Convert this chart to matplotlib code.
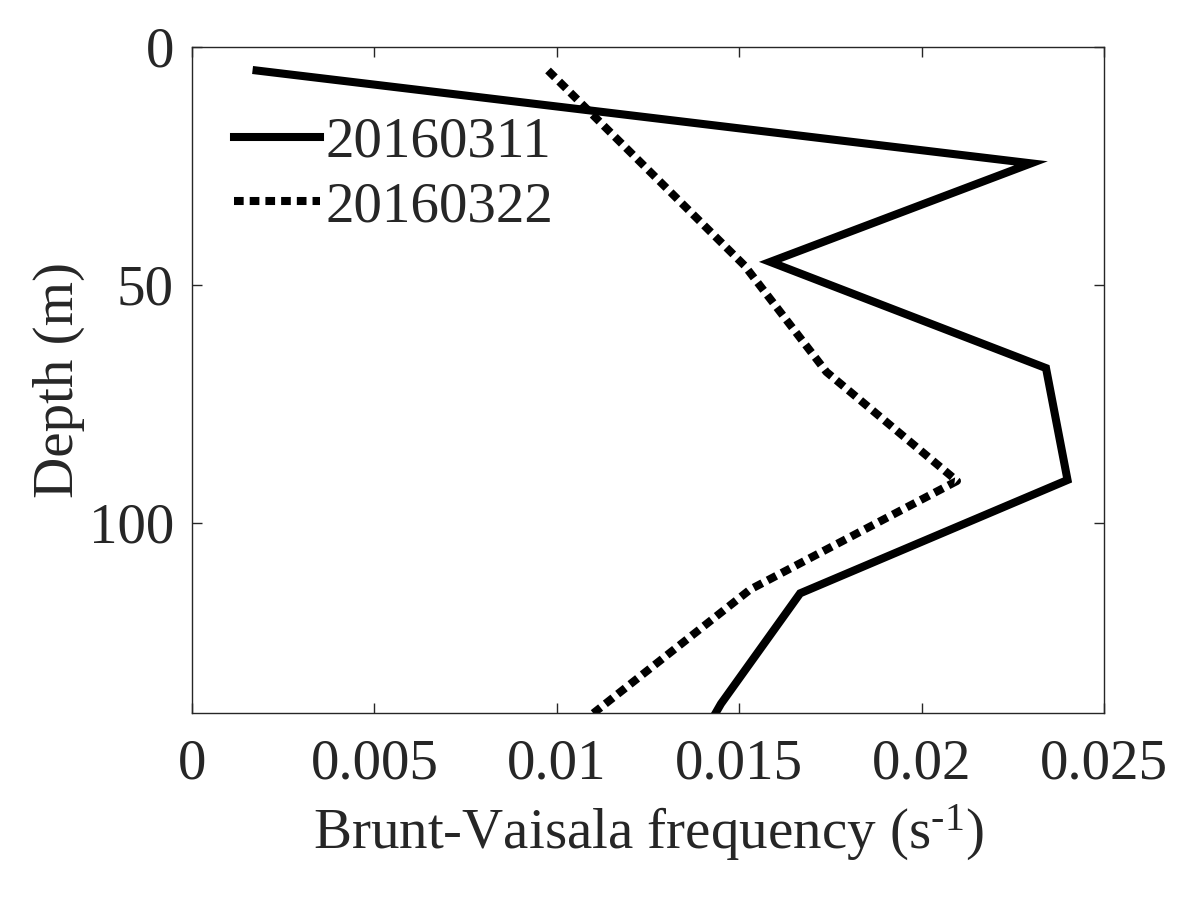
import matplotlib
matplotlib.use("Agg")
import matplotlib.pyplot as plt

# Data
solid_label = "20160311"
solid_x = [0.00177, 0.0230, 0.01585, 0.02341, 0.0240, 0.01667, 0.0145, 0.0142]
solid_y = [5, 24.5, 45.2, 67.5, 91, 114.8, 138, 142]

dotted_label = "20160322"
dotted_x = [0.00976, 0.01515, 0.01739, 0.02097, 0.0153, 0.0110]
dotted_y = [5, 46, 68.3, 91.2, 114, 140]

xticks = [0, 0.005, 0.01, 0.015, 0.02, 0.025]
xticklabels = ["0", "0.005", "0.01", "0.015", "0.02", "0.025"]
yticks = [0, 50, 100]
yticklabels = ["0", "50", "100"]

plt.rcParams['font.family'] = ['Liberation Serif', 'DejaVu Serif']
plt.rcParams['mathtext.fontset'] = 'custom'
plt.rcParams['mathtext.rm'] = 'Liberation Serif'
plt.rcParams['mathtext.it'] = 'Liberation Serif'
FS = 41
TC = '#262626'

fig = plt.figure(figsize=(12, 9.08), dpi=100)
ax = fig.add_axes([0.16, 0.2144, 0.76, 0.7342])

ax.plot(solid_x, solid_y, color='black', lw=5.8, solid_joinstyle='miter',
        label=solid_label)
ax.plot(dotted_x, dotted_y, color='black', lw=5.8, dashes=(1.2, 0.75),
        dash_capstyle='butt', label=dotted_label)

ax.set_xlim(0, 0.025)
ax.set_ylim(140, 0)
ax.set_xticks(xticks)
ax.set_xticklabels(xticklabels)
ax.set_yticks(yticks)
ax.set_yticklabels(yticklabels)

ax.tick_params(direction='in', length=7, width=1, top=True, right=True,
               labelsize=FS, colors=TC, labelcolor=TC)
ax.tick_params(axis='x', pad=18)
ax.tick_params(axis='y', pad=13)
for s in ax.spines.values():
    s.set_linewidth(1.0)
    s.set_color(TC)

ax.set_xlabel(r"Brunt-Vaisala frequency (s$^{\text{-1}}$)", fontsize=FS, color=TC, labelpad=9)
ax.set_ylabel("Depth (m)", fontsize=FS, color=TC, labelpad=3)

leg = ax.legend(loc='upper left', bbox_to_anchor=(0.0465, 0.895), frameon=False,
                fontsize=FS, handlelength=1.5, handletextpad=0.1,
                labelspacing=0.22, borderpad=0, borderaxespad=0)
for t in leg.get_texts():
    t.set_color(TC)

fig.savefig("out.png", dpi=100, facecolor='white')
